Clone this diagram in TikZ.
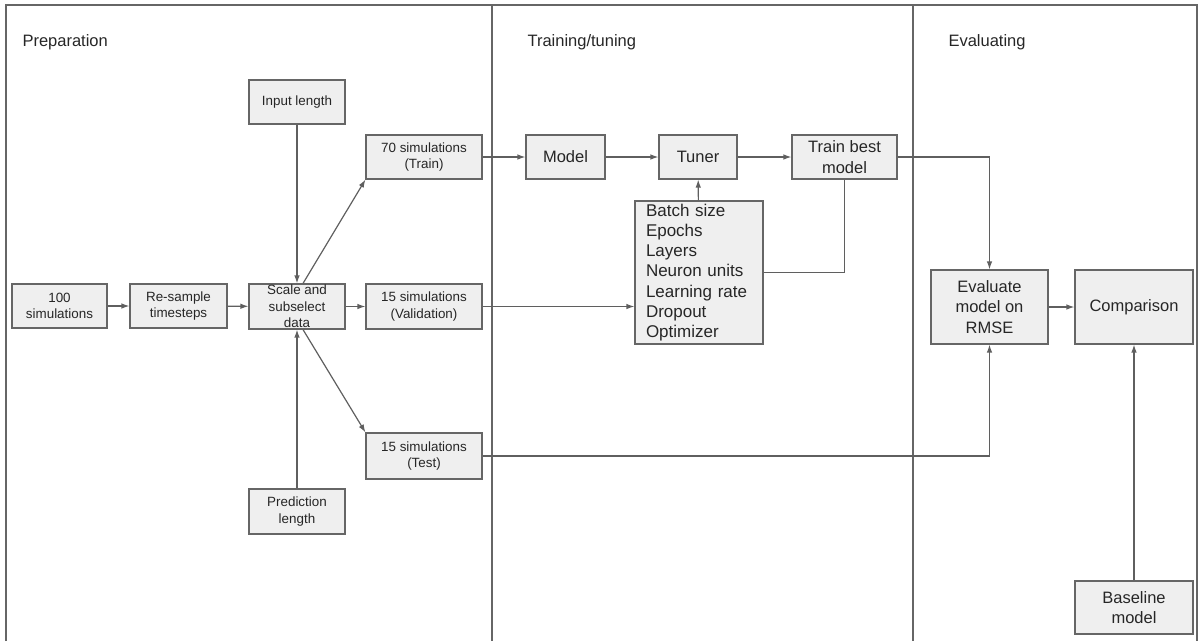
\documentclass[tikz,border=0pt]{standalone}
\usepackage{fontspec}
\setmainfont{Liberation Sans}
\usetikzlibrary{positioning}
\usetikzlibrary{arrows.meta}
\definecolor{boxfill}{HTML}{EFEFEF}
\definecolor{boxline}{HTML}{666666}
\definecolor{wire}{HTML}{5F5F5F}
\definecolor{ink}{HTML}{262626}

\begin{document}
\begin{tikzpicture}[
		x=1pt, y=-1pt,
		every node/.style={text=ink},
		blk/.style={
			rectangle,
			draw=boxline,
			fill=boxfill,
			line width=1.1pt,
			align=center,
			inner sep=1pt
		},
		smallblk/.style={
			blk,
			font=\fontsize{13.4}{16.6}\selectfont
		},
		bigblk/.style={
			blk,
			font=\fontsize{16.5}{20.4}\selectfont
		},
		section/.style={
			anchor=west,
			font=\fontsize{16.5}{20}\selectfont
		},
		link/.style={
			draw=wire,
			line width=1.2pt
		},
		arr/.style={
			link,
			-{Latex[length=8pt,width=5.5pt]}
		}
	]
		\useasboundingbox (0,0) rectangle (1200,641);
		
		% frame and columns
		\draw[boxline, line width=1.1pt] (6,641) -- (6,5) -- (1197,5) -- (1197,641);
		\draw[boxline, line width=1.1pt] (492,5) -- (492,641);
		\draw[boxline, line width=1.1pt] (913,5) -- (913,641);
		
		\node[section] (Lprep) at (19,42) {Preparation};
		\node[section] (Ltrain) at (524,42) {Training/tuning};
		\node[section] (Leval) at (945,42) {Evaluating};
		
		% preparation
		\node[smallblk, minimum width=95pt, minimum height=44pt] (Sim) at (59.5,306) {100\\simulations};
		\node[smallblk, minimum width=97pt, minimum height=44pt] (Resample) at (178.5,306) {Re-sample\\timesteps};
		\node[smallblk, minimum width=96pt, minimum height=45pt] (Scale) at (297,306.5) {Scale and\\subselect\\data};
		\node[smallblk, minimum width=96pt, minimum height=44pt] (InLen) at (297,102) {Input length};
		\node[smallblk, minimum width=96pt, minimum height=45pt] (PredLen) at (297,511.5) {Prediction\\length};
		\node[smallblk, minimum width=116pt, minimum height=44pt] (Train) at (424,157) {70 simulations\\(Train)};
		\node[smallblk, minimum width=116pt, minimum height=45pt] (Valid) at (424,306.5) {15 simulations\\(Validation)};
		\node[smallblk, minimum width=116pt, minimum height=46pt] (Test) at (424,456) {15 simulations\\(Test)};
		
		% training/tuning
		\node[bigblk, minimum width=79pt, minimum height=44pt] (Model) at (565.5,157) {Model};
		\node[bigblk, minimum width=78pt, minimum height=44pt] (Tuner) at (698,157) {Tuner};
		\node[bigblk, minimum width=105pt, minimum height=44pt] (Best) at (844.5,157) {Train best\\model};
		\node[bigblk, font=\fontsize{17}{20.3}\selectfont, align=left, text width=106pt, inner xsep=11pt, inner ysep=0pt, minimum width=128pt, minimum height=143pt] (Hyper) at (699,272.5) {Batch size\\Epochs\\Layers\\Neuron units\\Learning rate\\Dropout\\Optimizer};
		
		% evaluating
		\node[bigblk, minimum width=117pt, minimum height=74pt] (Eval) at (989.5,307) {Evaluate\\model on\\RMSE};
		\node[bigblk, minimum width=118pt, minimum height=74pt] (Comp) at (1134,307) {Comparison};
		\node[bigblk, minimum width=118pt, minimum height=53pt] (Base) at (1134,607.5) {Baseline\\model};
		
		\draw[arr] (Sim) -- (Resample);
		\draw[arr] (Resample) -- (Scale);
		\draw[arr] (Scale) -- (Valid);
		\draw[arr] (InLen) -- (Scale);
		\draw[arr] (PredLen) -- (Scale);
		\draw[arr] ([xshift=6pt] Scale.north) -- (Train.south west);
		\draw[arr] ([xshift=6pt] Scale.south) -- (Test.north west);
		
		\draw[arr] (Train) -- (Model);
		\draw[arr] (Model) -- (Tuner);
		\draw[arr] (Tuner) -- (Best);
		\draw[arr] (Hyper) -- (Tuner);
		\draw[link] (Hyper.east) -| (Best.south);
		\draw[arr] (Valid.east) -- (Valid.east -| Hyper.west);
		
		\draw[arr] (Best.east) -| (Eval.north);
		\draw[arr] (Test.east) -| (Eval.south);
		\draw[arr] (Eval) -- (Comp);
		\draw[arr] (Base) -- (Comp);
	\end{tikzpicture}
\end{document}
